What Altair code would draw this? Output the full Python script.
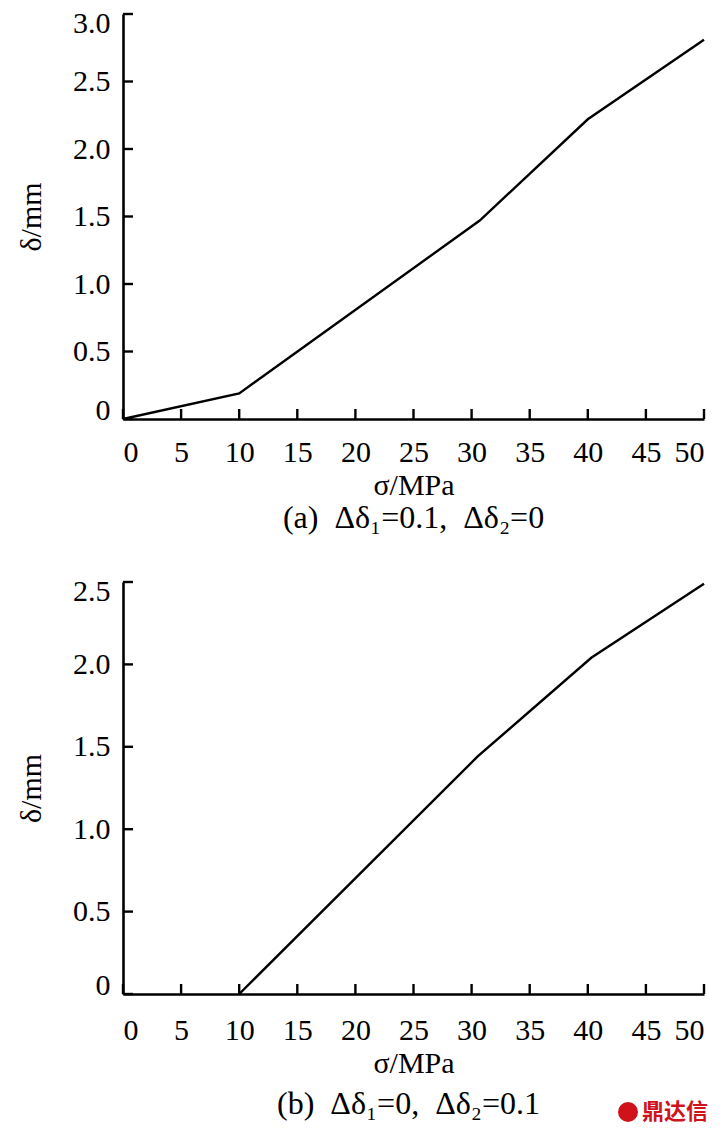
import altair as alt
import pandas as pd

# Panel (a)
xa = [0, 10, 30.7, 40, 50]
ya = [0, 0.19, 1.47, 2.22, 2.81]
# Panel (b)
xb = [10, 30.5, 40.3, 50]
yb = [0, 1.44, 2.04, 2.49]

x_ticks = [0, 5, 10, 15, 20, 25, 30, 35, 40, 45, 50]
y_ticks_a = [0, 0.5, 1.0, 1.5, 2.0, 2.5, 3.0]
y_ticks_b = [0, 0.5, 1.0, 1.5, 2.0, 2.5]

caption_a = "(a)\u2002Δδ₁=0.1,\u2002Δδ₂=0"
caption_b = "(b)\u2002Δδ₁=0,\u2002Δδ₂=0.1"
watermark = "鼎达信"

FONT = "Liberation Serif"
FS = 30
CFS = 32
W = 581
HA = 405
HB = 412


def panel(xs, ys, yticks, ymax, H, lab_pad, caption=None, extra=None):
    df = pd.DataFrame({"x": xs, "y": ys})
    xsc = alt.Scale(domain=[0, 50], nice=False, zero=False)
    ysc = alt.Scale(domain=[0, ymax], nice=False)
    line = alt.Chart(df).mark_line(color="black", strokeWidth=2.4).encode(
        x=alt.X("x:Q", scale=xsc,
                axis=alt.Axis(values=x_ticks, format="d", title="σ/MPa",
                              labelPadding=lab_pad, titlePadding=3)),
        y=alt.Y("y:Q", scale=ysc,
                axis=alt.Axis(values=yticks, title="δ/mm",
                              labelExpr="datum.value == 0 ? '0' : format(datum.value, '.1f')",
                              labelFlush=True, labelFlushOffset=6,
                              labelPadding=13, titlePadding=26)),
    )
    ytk = alt.Chart(pd.DataFrame({"v": yticks})).mark_rule(color="black", strokeWidth=2.4).encode(
        y=alt.Y("v:Q", scale=ysc), x=alt.value(0), x2=alt.value(10))
    xtk = alt.Chart(pd.DataFrame({"v": x_ticks})).mark_rule(color="black", strokeWidth=2.4).encode(
        x=alt.X("v:Q", scale=xsc), y=alt.value(H), y2=alt.value(H - 10))
    layers = [line, ytk, xtk]
    if extra is not None:
        layers.extend(extra)
    props = dict(width=W, height=H)
    if caption is not None:
        props["title"] = alt.TitleParams(caption, orient="bottom", font=FONT, fontSize=CFS,
                                         fontWeight="normal", color="black", offset=3,
                                         anchor="middle")
    return alt.layer(*layers).properties(**props)


cap_b = alt.Chart(pd.DataFrame({"t": [caption_b]})).mark_text(
    font=FONT, fontSize=CFS, color="black", align="center", baseline="middle", clip=False,
).encode(text="t:N", x=alt.value(W / 2 - 5), y=alt.value(HB + 110))

wm_df = pd.DataFrame({"t": [watermark]})
wm_text = alt.Chart(wm_df).mark_text(
    font="Noto Sans CJK SC", fontSize=22, fontWeight="bold", color="#d0121b",
    align="right", baseline="middle", clip=False,
).encode(text="t:N", x=alt.value(W + 4), y=alt.value(HB + 118))
wm_logo = alt.Chart(wm_df).mark_point(
    shape="circle", filled=True, color="#d0121b", size=400, opacity=1, clip=False,
).encode(x=alt.value(W - 76), y=alt.value(HB + 118))

top = panel(xa, ya, y_ticks_a, 3.0, HA, 18, caption=caption_a)
bot = panel(xb, yb, y_ticks_b, 2.5, HB, 21, extra=[cap_b, wm_logo, wm_text])

chart = alt.vconcat(top, bot, spacing=42).properties(
    padding={"left": 8, "top": 0, "right": 0, "bottom": 0}
).configure_view(
    stroke=None
).configure_axis(
    domainColor="black", domainWidth=2.6, ticks=False, grid=False,
    labelFont=FONT, labelFontSize=FS, labelColor="black",
    titleFont=FONT, titleFontSize=FS, titleColor="black", titleFontWeight="normal",
).configure_concat(spacing=42)

chart.save("out.html", embed_options={"renderer": "svg", "actions": False})
